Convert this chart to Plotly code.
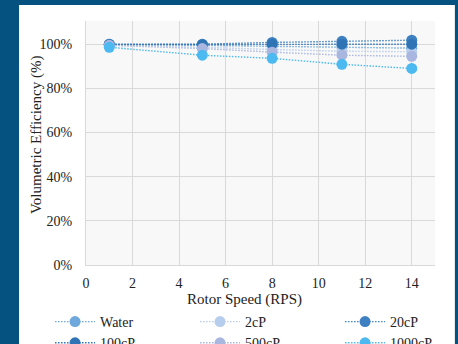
import plotly.graph_objects as go

# Rotor speeds (revolutions per second)
rotor_speed = [1, 5, 8, 11, 14]

# Volumetric efficiency per test fluid (fraction, 1.0 = 100%)
series_names = ["Water", "2cP", "20cP", "100cP", "500cP", "1000cP"]
water = [1.000, 0.995, 0.992, 0.988, 0.982]
cp2 = [0.999, 0.985, 0.976, 0.968, 0.966]
cp20 = [1.000, 1.000, 1.008, 1.013, 1.018]
cp100 = [0.998, 0.998, 1.000, 1.000, 1.000]
cp500 = [0.995, 0.980, 0.964, 0.950, 0.945]
cp1000 = [0.986, 0.950, 0.936, 0.909, 0.890]
series_values = [water, cp2, cp20, cp100, cp500, cp1000]

series_colors = ["#6fa8dc", "#b7cdee", "#3f80c2", "#2f74b5", "#a8b6e0", "#4cb9f0"]

y_ticks = [0, 0.2, 0.4, 0.6, 0.8, 1.0]
y_ticktext = ["0%", "20%", "40%", "60%", "80%", "100%"]
x_ticks = [0, 2, 4, 6, 8, 10, 12, 14]

FONT = "Liberation Serif"
GRID = "#d9d9d9"
TEXT = "#222222"

fig = go.Figure()
for name, vals, col in zip(series_names, series_values, series_colors):
    fig.add_trace(go.Scatter(
        x=rotor_speed, y=vals, name=name, mode="lines+markers",
        line=dict(color=col, width=1.4, dash="1.5px,1.5px"),
        marker=dict(color=col, size=11),
    ))

# White card behind the chart, and the light plot-area fill on top of it
fig.add_shape(type="rect", xref="paper", yref="paper",
              x0=-0.192, x1=1.057, y0=-0.4, y1=1.066,
              fillcolor="white", line_width=0, layer="below")
fig.add_shape(type="rect", xref="paper", yref="paper",
              x0=0, x1=1, y0=0, y1=1,
              fillcolor="#f8f8f8", line_width=0, layer="below")

fig.add_annotation(text="Volumetric Efficiency (%)", xref="paper", yref="paper",
                   x=-0.14, y=0.533, xanchor="center", yanchor="middle",
                   textangle=-90, showarrow=False,
                   font=dict(family=FONT, size=15, color=TEXT))
fig.add_annotation(text="Rotor Speed (RPS)", xref="paper", yref="paper",
                   x=0.455, y=-0.143, xanchor="center", yanchor="middle",
                   showarrow=False,
                   font=dict(family=FONT, size=15, color=TEXT))

fig.update_layout(
    width=458, height=344,
    margin=dict(l=86, r=23, t=21, b=79, autoexpand=False),
    paper_bgcolor="#05517f",
    plot_bgcolor="#f8f8f8",
    font=dict(family=FONT, size=14, color=TEXT),
    showlegend=True,
    legend=dict(
        orientation="h", xref="paper", yref="paper",
        x=-0.103, xanchor="left", y=-0.168, yanchor="top",
        entrywidth=90, entrywidthmode="pixels",
        itemwidth=40, bgcolor="rgba(0,0,0,0)",
        font=dict(family=FONT, size=14, color=TEXT),
    ),
    xaxis=dict(
        range=[0, 15], tickvals=x_ticks, showgrid=True, gridcolor=GRID,
        showline=True, linecolor=GRID, zeroline=False,
        ticks="outside", ticklen=5, tickcolor="rgba(0,0,0,0)",
        tickfont=dict(family=FONT, size=14, color=TEXT),
    ),
    yaxis=dict(
        range=[0, 1.105], tickvals=y_ticks, ticktext=y_ticktext,
        showgrid=True, gridcolor=GRID,
        showline=True, linecolor=GRID, zeroline=False,
        ticks="outside", ticklen=10, tickcolor="rgba(0,0,0,0)",
        tickfont=dict(family=FONT, size=14, color=TEXT),
    ),
)

fig.write_html("out.html")
